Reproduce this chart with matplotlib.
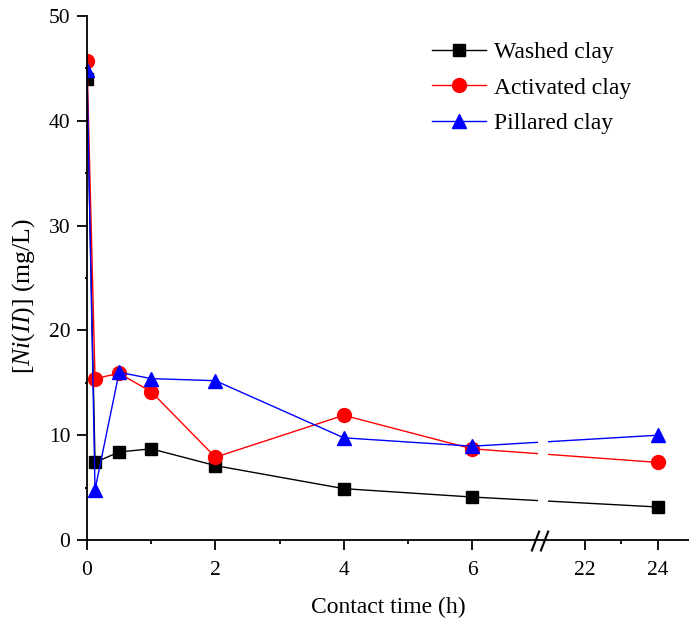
import numpy as np
import matplotlib
matplotlib.use("Agg")
import matplotlib.pyplot as plt
from matplotlib.patches import Rectangle
from matplotlib.lines import Line2D

plt.rcParams['font.family'] = ['Liberation Serif', 'DejaVu Serif']
plt.rcParams['mathtext.fontset'] = 'custom'
plt.rcParams['mathtext.it'] = 'Liberation Serif:italic'
plt.rcParams['mathtext.rm'] = 'Liberation Serif'

# data
time = [0, 0.125, 0.5, 1, 2, 4, 6, 24]
washed = [44.0, 7.4, 8.4, 8.7, 7.1, 4.9, 4.1, 3.15]
activated = [45.7, 15.4, 15.9, 14.15, 7.9, 11.9, 8.7, 7.4]
pillared = [44.8, 4.8, 16.0, 15.4, 15.2, 9.75, 8.95, 10.0]

major_ticks = [0, 2, 4, 6, 22, 24]
minor_ticks = [1, 3, 5, 23]


# broken axis: 0-7 h linear, 21-24.85 h compressed
def fwd(x):
    x = np.asarray(x, dtype=float)
    return np.where(x <= 7, x,
                    np.where(x >= 21, 7.189 + (x - 21) * 0.5685,
                             7 + (x - 7) * (0.189 / 14)))


def inv(u):
    u = np.asarray(u, dtype=float)
    return np.where(u <= 7, u,
                    np.where(u >= 7.189, 21 + (u - 7.189) / 0.5685,
                             7 + (u - 7) * 14 / 0.189))


fig = plt.figure(figsize=(6.89, 6.23), dpi=100)
ax = fig.add_axes([87 / 689, 83 / 623, 602 / 689, 524 / 623])
ax.set_xscale('function', functions=(fwd, inv))

ax.plot(time, washed, color='black', lw=1, marker='s', ms=8, label='Washed clay', zorder=2)
ax.plot(time, activated, color='red', lw=1, marker='o', ms=10, label='Activated clay', zorder=2)
ax.plot(time, pillared, color='blue', lw=1, marker='^', ms=10.5, label='Pillared clay', zorder=2)

ax.set_xlim(0, 24.85)
ax.set_ylim(0, 50)
ax.set_xticks(major_ticks)
ax.set_xticklabels([str(t) for t in major_ticks])
ax.set_xticks(minor_ticks, minor=True)
ax.set_yticks([0, 10, 20, 30, 40, 50])
ax.set_yticks([5, 15, 25, 35, 45], minor=True)

ax.spines['top'].set_visible(False)
ax.spines['right'].set_visible(False)
ax.spines['left'].set_linewidth(1.3)
ax.spines['bottom'].set_linewidth(1.3)
ax.tick_params(which='major', direction='out', length=7, width=1.3, labelsize=15.5)
ax.tick_params(axis='x', which='major', pad=8)
ax.tick_params(axis='y', which='major', pad=5)
ax.tick_params(axis='x', which='minor', direction='out', length=3, width=1.3)
ax.tick_params(axis='y', which='minor', direction='out', length=1.5, width=1.3)

# gap in the lines at the break
ax.add_patch(Rectangle((0.749, 0.01), 0.017, 0.99, transform=ax.transAxes,
                       facecolor='white', edgecolor='none', zorder=3))
# break marks
for x0 in (0.739, 0.754):
    ax.add_line(Line2D([x0, x0 + 0.012], [-0.02, 0.016], transform=ax.transAxes,
                       color='black', lw=1.5, clip_on=False, zorder=4))

ax.set_xlabel('Contact time (h)', fontsize=17, labelpad=12)
ax.set_ylabel(r'$[Ni(II)]$ (mg/L)', fontsize=18.5)
ax.yaxis.set_label_coords(-0.083, 0.466)

ax.legend(loc='upper left', bbox_to_anchor=(415 / 689, 1 - 25 / 623),
          bbox_transform=fig.transFigure, frameon=False, fontsize=17,
          handlelength=2.3, labelspacing=0.6, handletextpad=0.35, borderpad=0.2)

fig.savefig('out.png', dpi=100)
